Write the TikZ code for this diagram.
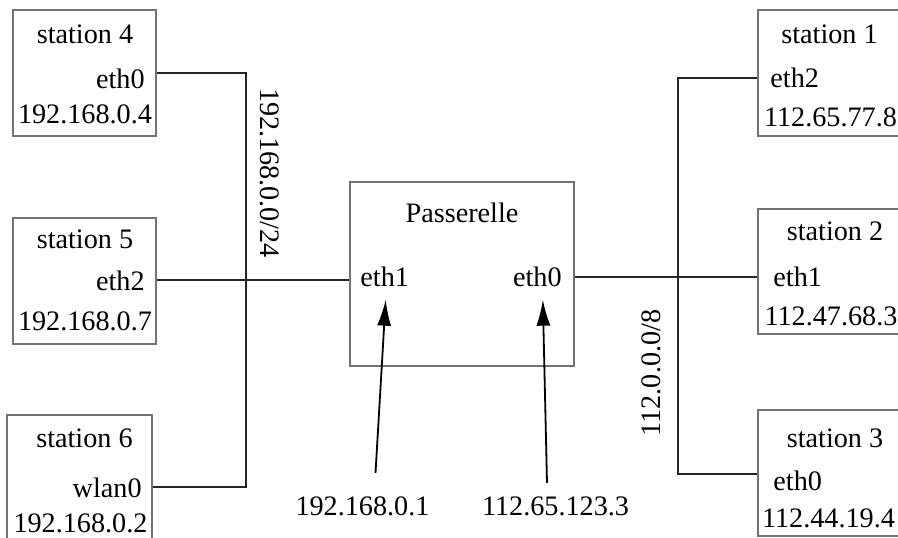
\documentclass[tikz,border=0pt]{standalone}
\usepackage{fontspec}
\setmainfont{Liberation Serif}
\usetikzlibrary{arrows.meta}

\begin{document}
\begin{tikzpicture}
  [x=0.5pt,y=-0.5pt,
   every node/.style={font=\fontsize{14.1}{17}\selectfont,inner sep=0pt},
   box/.style={draw=black!55,line width=0.7pt},
   lan/.style={draw=black!85,line width=0.9pt},
   ptr/.style={draw=black,line width=0.9pt,-{Latex[length=13pt,width=7pt]}}]
  \useasboundingbox (0,0) rectangle (898,537);
  \clip (0,0) rectangle (898,537);
  % boxes
  \node[box,minimum width=71.5pt,minimum height=63pt] (st4) at (84.5,73) {};
  \node[box,minimum width=71.5pt,minimum height=63pt] (st5) at (84.5,281) {};
  \node[box,minimum width=72.5pt,minimum height=63pt] (st6) at (79.5,478) {};
  \node[box,minimum width=112pt,minimum height=92pt] (gw) at (462,274) {};
  \node[box,minimum width=72.5pt,minimum height=63pt] (st1) at (830.5,73) {};
  \node[box,minimum width=72.5pt,minimum height=62.5pt] (st2) at (830.5,271.5) {};
  \node[box,minimum width=72.5pt,minimum height=63pt] (st3) at (830.5,473) {};
  % texts
  \node[anchor=base] (st4name) at (85,43) {station 4};
  \node[anchor=base east] (st4if) at (145,88) {eth0};
  \node[anchor=base] (st4ip) at (85,123) {192.168.0.4};
  \node[anchor=base] (st5name) at (85,248) {station 5};
  \node[anchor=base east] (st5if) at (145,290) {eth2};
  \node[anchor=base] (st5ip) at (85,330) {192.168.0.7};
  \node[anchor=base] (st6name) at (84.5,447) {station 6};
  \node[anchor=base east] (st6if) at (142,497) {wlan0};
  \node[anchor=base] (st6ip) at (80.5,532) {192.168.0.2};
  \node[anchor=base] (gwname) at (462,222) {Passerelle};
  \node[anchor=base west] (gwif1) at (360,286) {eth1};
  \node[anchor=base east] (gwif0) at (562,286) {eth0};
  \node[anchor=base] (st1name) at (829.5,43) {station 1};
  \node[anchor=base west] (st1if) at (770,87) {eth2};
  \node[anchor=base] (st1ip) at (830.5,126) {112.65.77.8};
  \node[anchor=base] (st2name) at (835,240) {station 2};
  \node[anchor=base west] (st2if) at (773,286) {eth1};
  \node[anchor=base] (st2ip) at (831,325) {112.47.68.3};
  \node[anchor=base] (st3name) at (835,447) {station 3};
  \node[anchor=base west] (st3if) at (773,490) {eth0};
  \node[anchor=base] (st3ip) at (828.5,527) {112.44.19.4};
  \node[anchor=base] (gwip1) at (362.5,515) {192.168.0.1};
  \node[anchor=base] (gwip0) at (555.5,515) {112.65.123.3};
  \node[rotate=-90] (net1) at (270,173) {192.168.0.0/24};
  \node[rotate=90] (net2) at (651,373) {112.0.0.0/8};
  % networks
  \coordinate (j4) at (246,73);
  \coordinate (j5) at (246,280);
  \coordinate (j6) at (246,487);
  \coordinate (j1) at (678,78);
  \coordinate (j2) at (678,277);
  \coordinate (j3) at (678,474);
  \draw[lan] (st4.east |- j4) -- (j4) -- (j6) -- (st6.east |- j6);
  \draw[lan] (st5.east |- j5) -- (gw.west |- j5);
  \draw[lan] (st1.west |- j1) -- (j1) -- (j3) -- (st3.west |- j3);
  \draw[lan] (gw.east |- j2) -- (st2.west |- j2);
  % addresses
  \draw[ptr] ([xshift=6.5pt,yshift=11.5pt]gwip1.north) -- ([xshift=0.5pt,yshift=-6.5pt]gwif1.south);
  \draw[ptr] ([xshift=-4.25pt,yshift=6.5pt]gwip0.north) -- ([xshift=2.75pt,yshift=-6.5pt]gwif0.south);
\end{tikzpicture}
\end{document}
